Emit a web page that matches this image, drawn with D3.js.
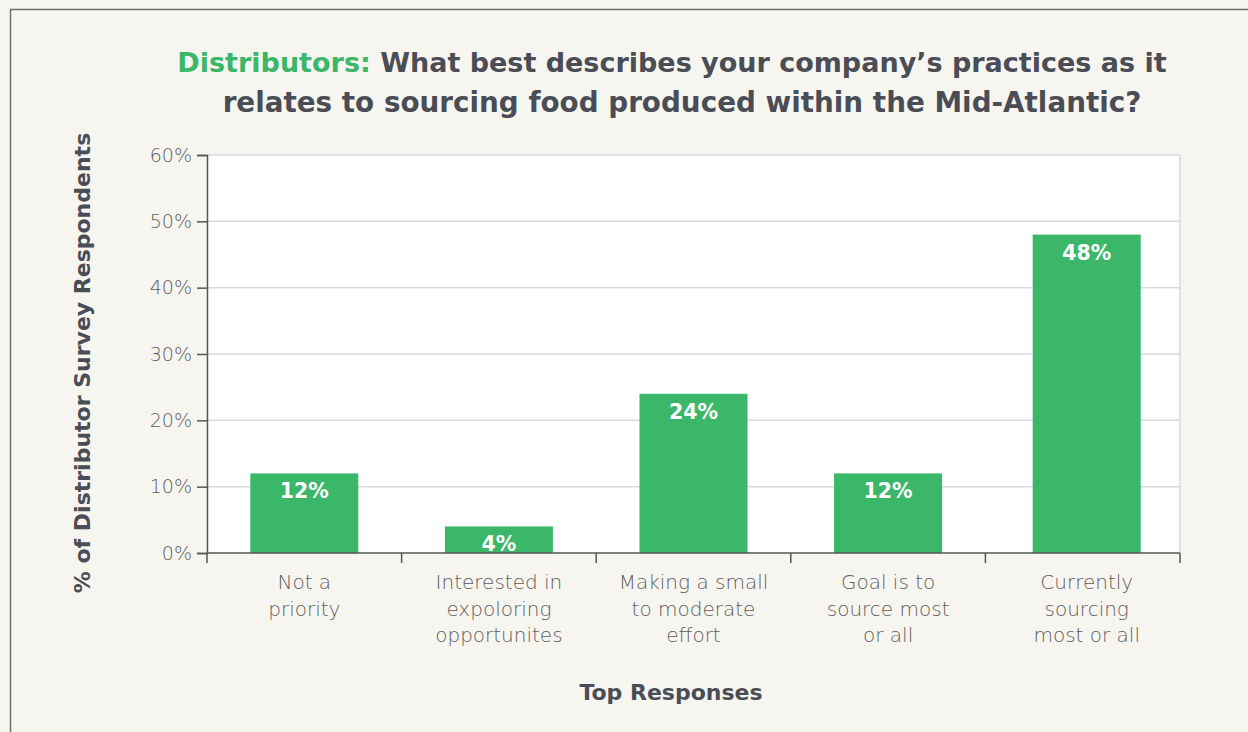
<!DOCTYPE html>
<html>
<head>
<meta charset="utf-8">
<script src="https://cdn.jsdelivr.net/npm/d3@7"></script>
<style>
  body { margin: 0; background: #f7f5ef; }
  svg { display: block; }
</style>
</head>
<body>
<div id="chart"></div>
<script>
var categories = [
  ["Not a", "priority"],
  ["Interested in", "expoloring", "opportunites"],
  ["Making a small", "to moderate", "effort"],
  ["Goal is to", "source most", "or all"],
  ["Currently", "sourcing", "most or all"]
];
var values = [12, 4, 24, 12, 48];
var yTicks = [0, 10, 20, 30, 40, 50, 60];

var W = 1248, H = 732;
var margin = { top: 155, right: 68, bottom: 179, left: 207 };
var width = W - margin.left - margin.right;
var height = H - margin.top - margin.bottom;
var font = "'DejaVu Sans', sans-serif";

var svg = d3.select("#chart").append("svg")
  .attr("width", W)
  .attr("height", H);

svg.append("rect")
  .attr("x", 10.5).attr("y", 9.5)
  .attr("width", W).attr("height", H)
  .attr("fill", "#f7f5ef")
  .attr("stroke", "#6e6e6e")
  .attr("stroke-width", 1.5);

// title
var title = svg.append("text")
  .attr("x", 672).attr("y", 72)
  .attr("text-anchor", "middle")
  .style("font-family", font)
  .style("font-size", "27px")
  .style("font-weight", "bold")
  .attr("fill", "#4a4d55");
title.append("tspan").attr("fill", "#3bb76a").text("Distributors: ");
title.append("tspan").text("What best describes your company\u2019s practices as it");
svg.append("text")
  .attr("x", 682).attr("y", 112)
  .attr("text-anchor", "middle")
  .style("font-family", font)
  .style("font-size", "27.8px")
  .style("font-weight", "bold")
  .attr("fill", "#4a4d55")
  .text("relates to sourcing food produced within the Mid-Atlantic?");

var g = svg.append("g")
  .attr("transform", "translate(" + margin.left + "," + margin.top + ")");

var x = d3.scaleBand()
  .domain(d3.range(categories.length))
  .range([0, width])
  .paddingInner(0.445)
  .paddingOuter(0.2225);

var y = d3.scaleLinear().domain([0, 60]).range([height, 0]);

g.append("rect")
  .attr("width", width).attr("height", height)
  .attr("fill", "#ffffff");

// gridlines
g.selectAll(".grid")
  .data(yTicks.filter(function (d) { return d > 0; }))
  .enter().append("line")
  .attr("x1", 0).attr("x2", width)
  .attr("y1", function (d) { return y(d); })
  .attr("y2", function (d) { return y(d); })
  .attr("stroke", "#d9d9d9")
  .attr("stroke-width", 1.5);

g.append("line")
  .attr("x1", width).attr("x2", width)
  .attr("y1", 0).attr("y2", height)
  .attr("stroke", "#d9d9d9")
  .attr("stroke-width", 1.5);

// bars
g.selectAll(".bar")
  .data(values)
  .enter().append("rect")
  .attr("class", "bar")
  .attr("x", function (d, i) { return x(i) + (i === 4 ? 4 : 0); })
  .attr("y", function (d) { return y(d); })
  .attr("width", x.bandwidth())
  .attr("height", function (d) { return height - y(d); })
  .attr("fill", "#3bb76a");

g.selectAll(".lbl")
  .data(values)
  .enter().append("text")
  .attr("x", function (d, i) { return x(i) + x.bandwidth() / 2 + (i === 4 ? 4 : 0); })
  .attr("y", function (d) { return y(d) + 25; })
  .attr("text-anchor", "middle")
  .style("font-family", font)
  .style("font-size", "20.5px")
  .style("font-weight", "bold")
  .attr("fill", "#ffffff")
  .text(function (d) { return d + "%"; });

// y axis
var yAxis = d3.axisLeft(y)
  .tickValues(yTicks)
  .tickSize(10)
  .tickPadding(5)
  .tickFormat(function (d) { return d + "%"; });

var ya = g.append("g").call(yAxis);
ya.select(".domain").attr("stroke", "#555").attr("stroke-width", 1.5);
ya.selectAll(".tick line").attr("stroke", "#555").attr("stroke-width", 1.5);
ya.selectAll(".tick text")
  .style("font-family", font)
  .style("font-size", "19px")
  .style("font-weight", "300")
  .attr("fill", "#5e5e5e");

// x axis
var xa = g.append("g").attr("transform", "translate(0," + height + ")");
xa.append("line")
  .attr("x1", 0).attr("x2", width)
  .attr("stroke", "#555").attr("stroke-width", 1.5);
var step = x.step();
var bounds = d3.range(categories.length + 1).map(function (i) {
  return i === categories.length ? width : x(i) - x.paddingInner() * step / 2;
});
bounds[0] = 0;
xa.selectAll(".xt")
  .data(bounds)
  .enter().append("line")
  .attr("x1", function (d) { return d; })
  .attr("x2", function (d) { return d; })
  .attr("y1", 0).attr("y2", 10)
  .attr("stroke", "#555").attr("stroke-width", 1.5);

var cats = xa.selectAll(".cat")
  .data(categories)
  .enter().append("text")
  .attr("text-anchor", "middle")
  .attr("transform", function (d, i) {
    return "translate(" + (x(i) + x.bandwidth() / 2 + (i === 4 ? 4 : 0)) + ",36)";
  })
  .style("font-family", font)
  .style("font-size", "20px")
  .style("font-weight", "300")
  .attr("fill", "#5e5e5e");
cats.selectAll("tspan")
  .data(function (d) { return d; })
  .enter().append("tspan")
  .attr("x", 0)
  .attr("y", function (d, i) { return i * 26.5; })
  .text(function (d) { return d; });

// axis titles
svg.append("text")
  .attr("x", 671).attr("y", 700)
  .attr("text-anchor", "middle")
  .style("font-family", font)
  .style("font-size", "22px")
  .style("font-weight", "bold")
  .attr("fill", "#4a4d55")
  .text("Top Responses");

svg.append("text")
  .attr("transform", "translate(90,363) rotate(-90)")
  .attr("text-anchor", "middle")
  .style("font-family", font)
  .style("font-size", "22px")
  .style("font-weight", "bold")
  .attr("fill", "#4a4d55")
  .text("% of Distributor Survey Respondents");
</script>
</body>
</html>
